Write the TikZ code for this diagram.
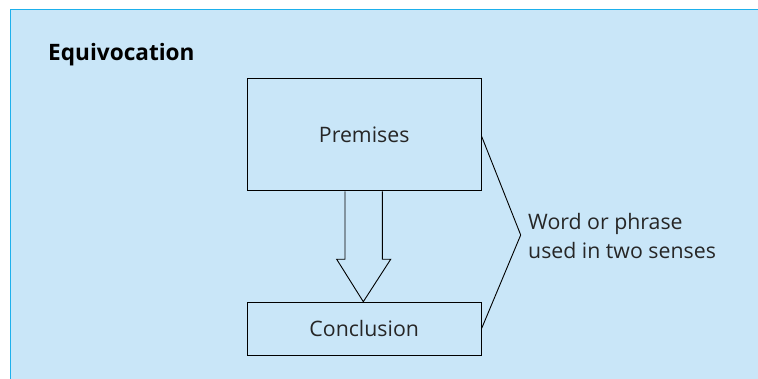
\documentclass[tikz,border=0pt]{standalone}
\usepackage{fontspec}
\setmainfont{Open Sans}
\definecolor{panelfill}{HTML}{C9E6F8}
\definecolor{panelline}{HTML}{1DB0EC}
\begin{document}
\begin{tikzpicture}[x=1pt,y=-1pt,
  boxstyle/.style={draw=black,line width=1pt,inner sep=0pt},
  lbl/.style={font=\fontsize{21.3}{28.5}\selectfont,text=black!85},
  thin/.style={draw=black,line width=0.9pt,line join=miter}]
\useasboundingbox (0,0) rectangle (758,379);
\fill[panelfill] (10.5,9.5) rectangle (758,379);
\draw[panelline,line width=1.6pt] (10.5,379) -- (10.5,9.5) -- (758,9.5);
\node[anchor=base west,font=\fontsize{22.6}{24}\bfseries\selectfont,inner sep=0pt] (title) at (48,61) {Equivocation};
\node[boxstyle,minimum width=234pt,minimum height=112pt,anchor=north west,lbl] (prem) at (246.7,78.3) {Premises};
\node[boxstyle,minimum width=234pt,minimum height=53.3pt,anchor=north west,lbl] (conc) at (246.7,301.7) {Conclusion};
\coordinate (apex) at (520.7,235);
\draw[thin] ([yshift=-1.7pt]prem.east) -- (apex) -- (conc.east |- 0,328.3);
\node[lbl,anchor=west,align=left,inner sep=0pt] (word) at (528,236) {Word or phrase\\used in two senses};
\draw[thin] (prem.south -| 345,0) -- (345,259.3) -- (336.7,259.3) -- (conc.north -| 363.3,0) -- (390.7,259.3) -- (382.3,259.3) -- (prem.south -| 382.3,0);
\end{tikzpicture}
\end{document}
